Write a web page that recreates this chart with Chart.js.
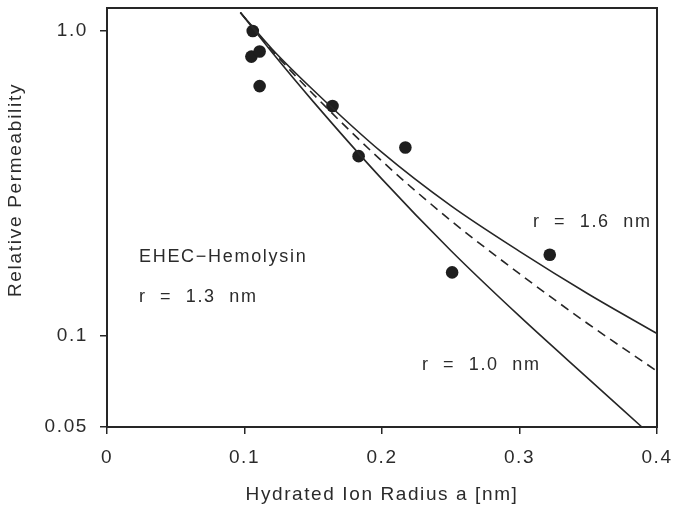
<!DOCTYPE html>
<html>
<head>
<meta charset="utf-8">
<script src="https://cdn.jsdelivr.net/npm/chart.js@4/dist/chart.umd.min.js"></script>
<style>
  html, body { margin: 0; padding: 0; background: #fff; }
  #wrap { width: 673px; height: 507px; position: relative; }
</style>
</head>
<body>
<div id="wrap"><canvas id="c" width="673" height="507"></canvas></div>
<script>
// ---- data ----
const pointX = [0.106, 0.105, 0.111, 0.111, 0.164, 0.183, 0.217, 0.251, 0.322];
const pointY = [1.0, 0.824, 0.856, 0.659, 0.567, 0.388, 0.414, 0.161, 0.184];

const curveX = [0.097, 0.12, 0.15, 0.2, 0.25, 0.3, 0.35, 0.4];
const curveR16 = [1.15, 0.873, 0.640, 0.399, 0.2667, 0.1888, 0.1368, 0.1014];
const curveR13 = [1.15, 0.864, 0.620, 0.3737, 0.2385, 0.1594, 0.109, 0.0763];
const curveR10X = [0.097, 0.12, 0.15, 0.2, 0.25, 0.3, 0.35, 0.389];
const curveR10 = [1.15, 0.851, 0.586, 0.326, 0.190, 0.1156, 0.0721, 0.05];

const xTickValues = [0, 0.1, 0.2, 0.3, 0.4];
const xTickLabels = ['0', '0.1', '0.2', '0.3', '0.4'];
const yTickValues = [0.05, 0.1, 1.0];
const yTickLabels = ['0.05', '0.1', '1.0'];

const xTitle = 'Hydrated Ion Radius a [nm]';
const yTitle = 'Relative Permeability';
const annotations = [
  { text: 'EHEC\u2212Hemolysin', x: 139, y: 257 },
  { text: 'r  =  1.3  nm', x: 139, y: 297 },
  { text: 'r  =  1.6  nm', x: 533, y: 222 },
  { text: 'r  =  1.0  nm', x: 422, y: 365 }
];

const ink = '#262626';
const textInk = '#2b2b2b';
const fontFamily = "'Liberation Sans', Arial, Helvetica, sans-serif";

function zip(xs, ys) { return xs.map((x, i) => ({ x: x, y: ys[i] })); }

function setSpacing(chart) {
  try { chart.ctx.letterSpacing = '1.6px'; } catch (e) {}
}

const framePlugin = {
  id: 'frame',
  beforeLayout(chart) { setSpacing(chart); },
  beforeDraw(chart) { setSpacing(chart); },
  afterDraw(chart) {
    const { ctx, chartArea: a } = chart;
    ctx.save();
    ctx.strokeStyle = ink;
    ctx.lineWidth = 2;
    ctx.strokeRect(a.left, a.top, a.right - a.left, a.bottom - a.top);
    ctx.fillStyle = textInk;
    ctx.font = '18px ' + fontFamily;
    ctx.textBaseline = 'middle';
    ctx.textAlign = 'left';
    try { ctx.letterSpacing = '1.7px'; } catch (e) {}
    annotations.forEach(an => ctx.fillText(an.text, an.x, an.y));
    // y axis title
    ctx.font = '19px ' + fontFamily;
    try { ctx.letterSpacing = '1.7px'; } catch (e) {}
    ctx.translate(16, 190);
    ctx.rotate(-Math.PI / 2);
    ctx.textAlign = 'center';
    ctx.fillText(yTitle, 0, 0);
    ctx.restore();
  }
};

function zeroPad(s) { s.paddingLeft = 0; s.paddingRight = 0; s.paddingTop = 0; s.paddingBottom = 0; }

new Chart(document.getElementById('c'), {
  type: 'scatter',
  data: {
    datasets: [
      {
        label: 'r = 1.6 nm',
        data: zip(curveX, curveR16),
        showLine: true, pointRadius: 0, borderColor: ink, borderWidth: 1.6,
        cubicInterpolationMode: 'monotone', fill: false
      },
      {
        label: 'r = 1.3 nm',
        data: zip(curveX, curveR13),
        showLine: true, pointRadius: 0, borderColor: ink, borderWidth: 1.6,
        borderDash: [9, 6], cubicInterpolationMode: 'monotone', fill: false
      },
      {
        label: 'r = 1.0 nm',
        data: zip(curveR10X, curveR10),
        showLine: true, pointRadius: 0, borderColor: ink, borderWidth: 1.6,
        cubicInterpolationMode: 'monotone', fill: false
      },
      {
        label: 'EHEC-Hemolysin',
        data: zip(pointX, pointY),
        showLine: false, pointRadius: 6.3, pointBackgroundColor: '#1e1e1e',
        pointBorderColor: '#1e1e1e', pointBorderWidth: 0
      }
    ]
  },
  options: {
    responsive: false,
    animation: false,
    clip: false,
    layout: { padding: { left: 0, right: 16, top: 8, bottom: 0 } },
    plugins: { legend: { display: false }, tooltip: { enabled: false } },
    scales: {
      x: {
        type: 'linear', min: 0, max: 0.4,
        afterBuildTicks: s => { s.ticks = xTickValues.map(v => ({ value: v })); },
        afterFit: s => { s.height = 80; zeroPad(s); },
        ticks: {
          color: textInk, padding: 12, maxRotation: 0, autoSkip: false,
          font: { size: 19, family: fontFamily },
          callback: (v) => { const i = xTickValues.findIndex(t => Math.abs(t - v) < 1e-9); return i >= 0 ? xTickLabels[i] : ''; }
        },
        grid: { display: true, drawOnChartArea: false, drawTicks: true, tickLength: 7, color: ink, lineWidth: 1.5 },
        border: { display: true, color: ink, width: 2 },
        title: { display: true, text: xTitle, color: textInk, font: { size: 19, family: fontFamily }, padding: { top: 4, bottom: 1 } }
      },
      y: {
        type: 'logarithmic', min: 0.05, max: 1.19,
        afterBuildTicks: s => { s.ticks = yTickValues.map(v => ({ value: v })); },
        afterFit: s => { s.width = 107; zeroPad(s); },
        ticks: {
          color: textInk, padding: 12, autoSkip: false,
          font: { size: 19, family: fontFamily },
          callback: (v) => { const i = yTickValues.findIndex(t => Math.abs(t - v) < 1e-9); return i >= 0 ? yTickLabels[i] : ''; }
        },
        grid: { display: true, drawOnChartArea: false, drawTicks: true, tickLength: 7, color: ink, lineWidth: 1.5 },
        border: { display: true, color: ink, width: 2 },
        title: { display: false }
      }
    }
  },
  plugins: [framePlugin]
});
</script>
</body>
</html>
